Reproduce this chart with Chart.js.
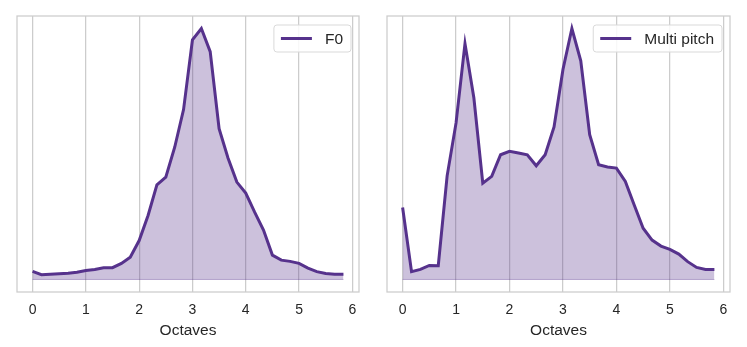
<!DOCTYPE html>
<html>
<head>
<meta charset="utf-8">
<script src="https://cdn.jsdelivr.net/npm/chart.js@4/dist/chart.umd.min.js"></script>
<style>
  html, body { margin: 0; padding: 0; background: #fff; }
  #wrap { position: relative; width: 747px; height: 347px; }
  .panel { position: absolute; top: 0; height: 347px; }
  #left { left: 0; width: 373px; }
  #right { left: 373px; width: 374px; }
</style>
</head>
<body>
<div id="wrap">
  <div class="panel" id="left"><canvas id="chartF0"></canvas></div>
  <div class="panel" id="right"><canvas id="chartMulti"></canvas></div>
</div>
<script>
// octave positions of the histogram bins
var octaves = [0, 0.167, 0.333, 0.5, 0.667, 0.833, 1, 1.167, 1.333, 1.5, 1.667, 1.833,
               2, 2.167, 2.333, 2.5, 2.667, 2.833, 3, 3.167, 3.333, 3.5, 3.667, 3.833,
               4, 4.167, 4.333, 4.5, 4.667, 4.833, 5, 5.167, 5.333, 5.5, 5.667, 5.833];

var f0Values = [0.032, 0.019, 0.021, 0.023, 0.025, 0.029, 0.036, 0.040, 0.047, 0.047, 0.064, 0.089,
                0.155, 0.255, 0.377, 0.408, 0.527, 0.677, 0.955, 1.0, 0.908, 0.601, 0.484, 0.388,
                0.344, 0.268, 0.197, 0.097, 0.077, 0.072, 0.064, 0.045, 0.031, 0.024, 0.021, 0.021];

var multiValues = [0.287, 0.031, 0.040, 0.056, 0.055, 0.413, 0.624, 0.940, 0.724, 0.384, 0.411, 0.497,
                   0.511, 0.504, 0.497, 0.453, 0.497, 0.608, 0.837, 1.0, 0.871, 0.577, 0.457, 0.448,
                   0.444, 0.391, 0.297, 0.204, 0.157, 0.133, 0.120, 0.101, 0.071, 0.048, 0.040, 0.040];

var xTicks = [0, 1, 2, 3, 4, 5, 6];

var lineColor = '#56328c';
var fillColor = 'rgba(86,50,140,0.3)';
var textColor = '#262626';
var fontFamily = '"Liberation Sans", Arial, sans-serif';

// frame, baseline edge and matplotlib-style legend
var framePlugin = {
    id: 'frame',
    beforeDatasetsDraw: function (chart) {
        var ctx = chart.ctx;
        var xs = chart.scales.x, ys = chart.scales.y;
        var y0 = ys.getPixelForValue(0);
        ctx.save();
        ctx.strokeStyle = 'rgba(86,50,140,0.35)';
        ctx.lineWidth = 1;
        ctx.beginPath();
        ctx.moveTo(xs.getPixelForValue(octaves[0]), y0);
        ctx.lineTo(xs.getPixelForValue(octaves[octaves.length - 1]), y0);
        ctx.stroke();
        ctx.restore();
    },
    afterDraw: function (chart) {
        var ctx = chart.ctx;
        var a = chart.chartArea;
        ctx.save();
        ctx.strokeStyle = '#cccccc';
        ctx.lineWidth = 1.25;
        ctx.strokeRect(a.left, a.top, a.right - a.left, a.bottom - a.top);

        var label = chart.data.datasets[0].label;
        ctx.font = '15.5px ' + fontFamily;
        var tw = ctx.measureText(label).width;
        var w = 51 + tw + 8, h = 27;
        var bx = a.right - 8 - w, by = a.top + 9;
        ctx.beginPath();
        ctx.roundRect(bx, by, w, h, 3);
        ctx.fillStyle = 'rgba(255,255,255,0.85)';
        ctx.fill();
        ctx.strokeStyle = '#d9d9d9';
        ctx.lineWidth = 1;
        ctx.stroke();

        ctx.beginPath();
        ctx.moveTo(bx + 7, by + h / 2);
        ctx.lineTo(bx + 38, by + h / 2);
        ctx.strokeStyle = lineColor;
        ctx.lineWidth = 3;
        ctx.stroke();

        ctx.fillStyle = textColor;
        ctx.textBaseline = 'middle';
        ctx.fillText(label, bx + 51, by + h / 2 + 1);
        ctx.restore();
    }
};

function makeChart(canvasId, label, values, padLeft, padRight) {
    var points = octaves.map(function (o, i) { return { x: o, y: values[i] }; });
    return new Chart(document.getElementById(canvasId), {
        type: 'line',
        data: {
            datasets: [{
                label: label,
                data: points,
                borderColor: lineColor,
                backgroundColor: fillColor,
                borderWidth: 3,
                fill: 'origin',
                pointRadius: 0,
                tension: 0
            }]
        },
        options: {
            responsive: true,
            maintainAspectRatio: false,
            animation: false,
            layout: { padding: { left: padLeft, right: padRight, top: 16, bottom: 0 } },
            plugins: { legend: { display: false }, tooltip: { enabled: false } },
            scales: {
                x: {
                    type: 'linear',
                    min: -0.292,
                    max: 6.125,
                    afterBuildTicks: function (scale) {
                        scale.ticks = xTicks.map(function (v) { return { value: v }; });
                    },
                    afterFit: function (scale) { scale.height = 55; },
                    grid: { color: '#cccccc', lineWidth: 1.25, drawTicks: false },
                    border: { display: false },
                    ticks: {
                        padding: 10,
                        color: textColor,
                        font: { family: fontFamily, size: 14 },
                        maxRotation: 0
                    },
                    title: {
                        display: true,
                        text: 'Octaves',
                        color: textColor,
                        font: { family: fontFamily, size: 15.5 },
                        padding: { top: 0, bottom: 7 }
                    }
                },
                y: {
                    display: false,
                    min: -0.05,
                    max: 1.05
                }
            }
        },
        plugins: [framePlugin]
    });
}

makeChart('chartF0', 'F0', f0Values, 17, 14);
makeChart('chartMulti', 'Multi pitch', multiValues, 14, 17);
</script>
</body>
</html>
